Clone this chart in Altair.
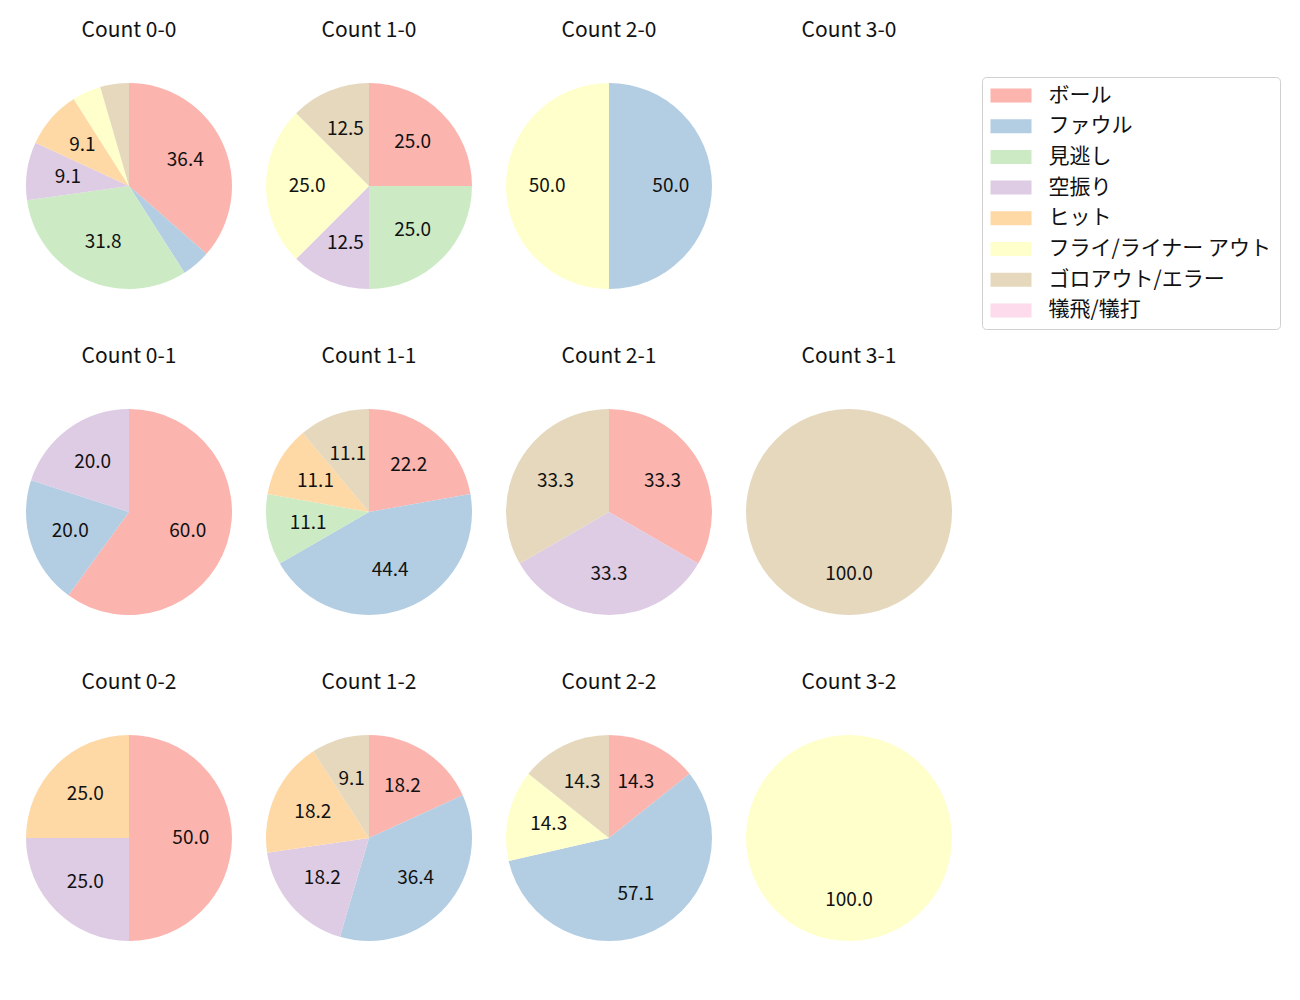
import altair as alt
import pandas as pd

categories = ["ボール", "ファウル", "見逃し", "空振り", "ヒット", "フライ/ライナー アウト", "ゴロアウト/エラー", "犠飛/犠打"]
colors = ["#fbb4ae", "#b3cde3", "#ccebc5", "#decbe4", "#fed9a6", "#ffffcc", "#e5d8bd", "#fddaec"]

# percentages per panel, in category order
panels = {
    "0-0": [36.4, 4.5, 31.8, 9.1, 9.1, 4.5, 4.5, 0],
    "1-0": [25.0, 0, 25.0, 12.5, 0, 25.0, 12.5, 0],
    "2-0": [0, 50.0, 0, 0, 0, 50.0, 0, 0],
    "3-0": [0, 0, 0, 0, 0, 0, 0, 0],
    "0-1": [60.0, 20.0, 0, 20.0, 0, 0, 0, 0],
    "1-1": [22.2, 44.4, 11.1, 0, 11.1, 0, 11.1, 0],
    "2-1": [33.3, 0, 0, 33.3, 0, 0, 33.3, 0],
    "3-1": [0, 0, 0, 0, 0, 0, 100.0, 0],
    "0-2": [50.0, 0, 0, 25.0, 25.0, 0, 0, 0],
    "1-2": [18.2, 36.4, 0, 18.2, 18.2, 0, 9.1, 0],
    "2-2": [14.3, 57.1, 0, 0, 0, 14.3, 14.3, 0],
    "3-2": [0, 0, 0, 0, 0, 100.0, 0, 0],
}
rows_order = [["0-0", "1-0", "2-0", "3-0"], ["0-1", "1-1", "2-1", "3-1"], ["0-2", "1-2", "2-2", "3-2"]]

FONT = "Noto Sans CJK JP"
R = 103
SIZE = 2 * R

color_scale = alt.Scale(domain=categories, range=colors)


def panel(key):
    vals = panels[key]
    title = alt.TitleParams(text=f"Count {key}", fontSize=21, font=FONT, fontWeight="normal",
                            offset=42, color="#111")
    if sum(vals) == 0:
        return alt.Chart(pd.DataFrame({"t": [""]})).mark_text().encode(text="t:N").properties(
            width=SIZE, height=SIZE, title=title)
    df = pd.DataFrame({
        "cat": categories,
        "order": list(range(len(categories))),
        "pct": vals,
    })
    df = df[df["pct"] > 0].copy()
    df["label"] = [f"{v:.1f}" if v >= 5 else "" for v in df["pct"]]
    base = alt.Chart(df).encode(
        theta=alt.Theta("pct:Q", stack=True),
        order=alt.Order("order:Q"),
    )
    arc = base.mark_arc(outerRadius=R, stroke=None).encode(
        color=alt.Color("cat:N", scale=color_scale,
                        legend=alt.Legend(title=None)),
    )
    txt = base.mark_text(radius=0.6 * R, font=FONT, fontSize=19, color="#111").encode(text="label:N")
    return alt.layer(arc, txt).properties(width=SIZE, height=SIZE, title=title)


rows = [alt.hconcat(*[panel(k) for k in r], spacing=34) for r in rows_order]
chart = alt.vconcat(*rows, spacing=57).properties(
    padding={"left": 18, "top": 12, "right": 5, "bottom": 5}
).configure_view(stroke=None).configure_legend(
    orient="none", legendX=956, legendY=-6,
    strokeColor="#d0d0d0", cornerRadius=4, padding=8,
    labelFont=FONT, labelFontSize=21, labelColor="#111",
    symbolType="M-2.05,-0.7H2.05V0.7H-2.05Z", symbolSize=400, symbolStrokeWidth=0,
    symbolOffset=10.5, rowPadding=8.7, labelOffset=27, labelLimit=400,
).configure_concat(spacing=34)

chart.save("out.html", embed_options={"renderer": "svg", "actions": False})
